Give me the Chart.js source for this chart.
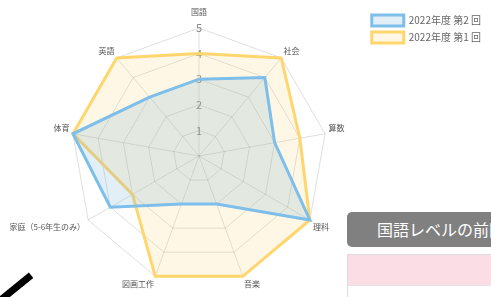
<!DOCTYPE html>
<html>
<head>
<meta charset="utf-8">
<script src="https://cdn.jsdelivr.net/npm/chart.js@4"></script>
<style>
  html, body { margin: 0; padding: 0; background: #fff; overflow: hidden; }
  #wrap { position: relative; width: 491px; height: 297px; }
  #chart-box { position: absolute; left: 0; top: 0; width: 491px; height: 297px; }
  .level-btn {
    position: absolute; left: 347px; top: 212px; width: 160px; height: 35px;
    background: #808080; border-radius: 5px; color: #fff; overflow: hidden; white-space: nowrap;
    font-family: "Noto Sans CJK JP", sans-serif; font-size: 16px; line-height: 35px; padding-left: 30px;
    box-sizing: border-box;
  }
  .pink-box {
    position: absolute; left: 347px; top: 254px; width: 160px; height: 50px;
    border: 1px solid #ddd; background: #fff; box-sizing: border-box;
  }
  .pink-box .head { height: 30px; background: #fadde5; border-bottom: 1px solid #e4e4e4; }
  .slash {
    position: absolute; left: 0px; top: 297px; width: 40px; height: 7px; background: #000;
    transform: rotate(-39deg); transform-origin: left center;
  }
</style>
</head>
<body>
<div id="wrap">
  <div id="chart-box"><canvas id="radar"></canvas></div>
  <div class="level-btn">国語レベルの前回</div>
  <div class="pink-box"><div class="head"></div></div>
  <div class="slash"></div>
</div>
<script>
const subjects = ['国語', '社会', '算数', '理科', '音楽', '図画工作', '家庭（5-6年生のみ）', '体育', '英語'];
const round2 = [3, 4, 3, 5, 2, 2, 4, 5, 3];
const round1 = [4, 5, 4, 5, 5, 5, 3, 5, 5];
const seriesNames = ['2022年度 第2 回', '2022年度 第1 回'];

const fontFamily = '"Noto Sans CJK JP", "Noto Sans", sans-serif';

// where the radar sits on the page (the legend takes the right side)
const radarCenter = { x: 199, y: 156 };
const radarRadius = 128;

// move the fitted radial scale to the fixed spot, dragging the point labels along
function placeRadar(scale) {
    const dx = radarCenter.x - scale.xCenter;
    const dy = radarCenter.y - scale.yCenter;
    const dr = radarRadius - scale.drawingArea;
    scale.xCenter = radarCenter.x;
    scale.yCenter = radarCenter.y;
    scale.drawingArea = radarRadius;
    (scale._pointLabelItems || []).forEach((item, i) => {
        const a = scale.getIndexAngle(i) - Math.PI / 2;
        const ox = dx + dr * Math.cos(a);
        const oy = dy + dr * Math.sin(a);
        item.x += ox; item.left += ox; item.right += ox;
        item.y += oy; item.top += oy; item.bottom += oy;
    });
}

new Chart(document.getElementById('radar'), {
    type: 'radar',
    data: {
        labels: subjects,
        datasets: [{
            label: seriesNames[0],
            data: round2,
            borderColor: 'rgb(125, 190, 235)',
            backgroundColor: 'rgba(100, 165, 210, 0.18)',
            borderWidth: 3,
            pointRadius: 0,
            fill: true
        }, {
            label: seriesNames[1],
            data: round1,
            borderColor: 'rgb(255, 214, 110)',
            backgroundColor: 'rgba(255, 200, 80, 0.15)',
            borderWidth: 3,
            pointRadius: 0,
            fill: true
        }]
    },
    options: {
        responsive: true,
        maintainAspectRatio: false,
        animation: false,
        layout: { padding: { top: 9, right: 0 } },
        plugins: {
            legend: {
                position: 'right',
                align: 'start',
                labels: {
                    boxWidth: 32,
                    boxHeight: 11,
                    padding: 6,
                    color: '#666',
                    font: { family: fontFamily, size: 10 }
                }
            },
            tooltip: { enabled: false }
        },
        scales: {
            r: {
                min: 0,
                max: 5,
                afterFit: placeRadar,
                ticks: {
                    stepSize: 1,
                    showLabelBackdrop: false,
                    color: '#888',
                    font: { family: fontFamily, size: 11 }
                },
                grid: { color: 'rgba(0,0,0,0.13)' },
                angleLines: { color: 'rgba(0,0,0,0.13)' },
                pointLabels: {
                    color: '#555',
                    // top label sits above the tick numbers, the rest hug the rim
                    padding: (ctx) => ctx.index === 0 ? 4 : -4,
                    font: { family: fontFamily, size: 8 }
                }
            }
        }
    }
});
</script>
</body>
</html>
